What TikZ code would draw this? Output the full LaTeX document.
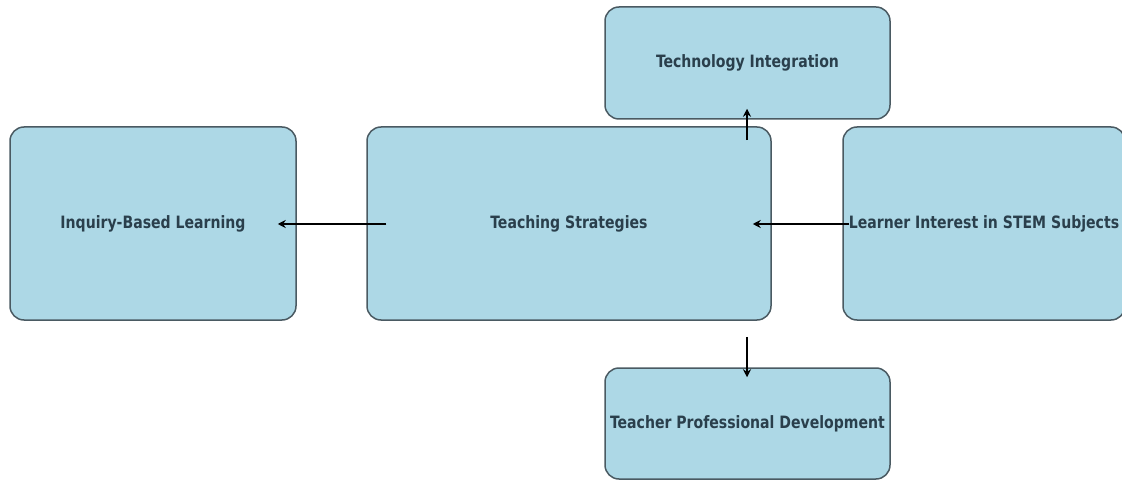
\documentclass[tikz,border=0pt]{standalone}
\usepackage{fontspec}
\setmainfont{DejaVu Sans Condensed}
\usetikzlibrary{arrows.meta,calc}
\definecolor{boxfill}{HTML}{ADD8E6}
\definecolor{boxline}{HTML}{4A5A62}
\definecolor{txt}{HTML}{2A3F4C}
% narrow bold label text
\newcommand\boxlabel[1]{\scalebox{0.92}[1]{#1}}
\begin{document}
\begin{tikzpicture}[x=1pt,y=-1pt,
  box/.style={draw=boxline,line width=1.5pt,fill=boxfill,rounded corners=14pt,
    inner sep=0pt,font=\bfseries\fontsize{17}{19}\selectfont,text=txt},
  link/.style={line width=2.2pt,-{Stealth[length=8pt,width=8pt]}}]
\useasboundingbox (0,0) rectangle (1122,481);
% boxes
\node[box,minimum width=286pt,minimum height=193pt] (ibl) at (153,223.5) {\boxlabel{Inquiry-Based Learning}};
\node[box,minimum width=404pt,minimum height=193pt] (ts) at (569,223.5) {\boxlabel{Teaching Strategies}};
\node[box,minimum width=282pt,minimum height=193pt] (lis) at (984,223.5) {\boxlabel{Learner Interest in STEM Subjects}};
\node[box,minimum width=285pt,minimum height=112pt] (ti) at (747.5,63) {\boxlabel{Technology Integration}};
\node[box,minimum width=285pt,minimum height=111pt] (tpd) at (747.5,423.5) {\boxlabel{Teacher Professional Development}};
% connectors
\draw[link] ($(ts.west)+(20,0.5)$) -- ($(ibl.east)+(-19,0.5)$);
\draw[link] ($(lis.west)+(7,0.5)$) -- ($(ts.east)+(-19,0.5)$);
\draw[link] ($(ts.north)+(178,14)$) -- ($(ti.south)+(-0.5,-11)$);
\draw[link] ($(ts.south)+(178,16)$) -- ($(tpd.north)+(-0.5,10)$);
\end{tikzpicture}
\end{document}
